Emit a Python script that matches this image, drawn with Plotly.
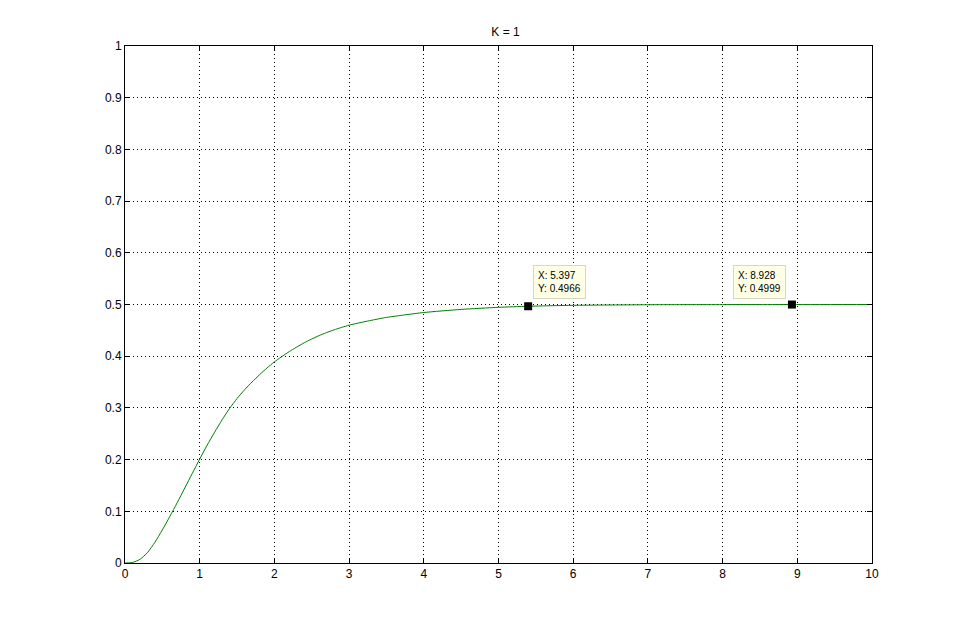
import plotly.graph_objects as go

t = [0, 0.1, 0.2, 0.3, 0.4, 0.5, 0.6, 0.7, 0.8, 0.9, 1.0, 1.1, 1.2, 1.3, 1.4, 1.5,
     1.6, 1.7, 1.8, 1.9, 2.0, 2.2, 2.4, 2.6, 2.8, 3.0, 3.25, 3.5, 3.75, 4.0, 4.5, 5.0,
     5.397, 6.0, 7.0, 8.0, 8.928, 10.0]
y = [0, 0.001, 0.007, 0.020, 0.040, 0.064, 0.090, 0.117, 0.145, 0.173, 0.201,
     0.228, 0.253, 0.277, 0.299, 0.318, 0.335, 0.350, 0.364, 0.377, 0.389, 0.409,
     0.426, 0.440, 0.451, 0.460, 0.468, 0.475, 0.480, 0.4845, 0.4905, 0.4945, 0.4966,
     0.4984, 0.4995, 0.4998, 0.4999, 0.5]

tip_x = [5.397, 8.928]
tip_y = [0.4966, 0.4999]

x_ticks = list(range(0, 11))
y_ticks = [0, 0.1, 0.2, 0.3, 0.4, 0.5, 0.6, 0.7, 0.8, 0.9, 1]
y_tick_labels = ["0", "0.1", "0.2", "0.3", "0.4", "0.5", "0.6", "0.7", "0.8", "0.9", "1"]

font = dict(family="Liberation Sans, Arial, sans-serif", size=12, color="black")

fig = go.Figure()
fig.add_trace(go.Scatter(x=t, y=y, mode="lines", line=dict(color="#007F00", width=1, shape="spline", smoothing=0.6),
                         hoverinfo="skip", showlegend=False))
fig.add_trace(go.Scatter(x=tip_x, y=tip_y, mode="markers",
                         marker=dict(symbol="square", size=8, color="black"),
                         hoverinfo="skip", showlegend=False))

fig.add_annotation(x=tip_x[0], y=tip_y[0], xref="x", yref="y", showarrow=False,
                   text="X: 5.397<br>Y: 0.4966", align="left", xanchor="left", yanchor="bottom",
                   xshift=5, yshift=7, bgcolor="#FFFFE6", bordercolor="#D8D8C0", borderwidth=1,
                   borderpad=4, font=dict(family=font["family"], size=10, color="black"))
fig.add_annotation(x=tip_x[1], y=tip_y[1], xref="x", yref="y", showarrow=False,
                   text="X: 8.928<br>Y: 0.4999", align="left", xanchor="right", yanchor="bottom",
                   xshift=-6, yshift=6, bgcolor="#FFFFE6", bordercolor="#D8D8C0", borderwidth=1,
                   borderpad=4, font=dict(family=font["family"], size=10, color="black"))

axis_common = dict(showline=True, linecolor="black", linewidth=1, mirror="ticks",
                   ticks="inside", ticklen=5, tickcolor="black",
                   showgrid=True, gridcolor="black", griddash="1px,3px", gridwidth=1,
                   zeroline=False, tickfont=font)

fig.update_layout(
    width=963, height=633,
    margin=dict(l=117, r=99, t=38, b=78),
    paper_bgcolor="white", plot_bgcolor="white",
    title=dict(text="K = 1", x=(125 + 872) / 2 / 963 - 8 / 963, xref="paper", xanchor="center",
               y=1 - 24 / 633, yanchor="middle",
               font=dict(family=font["family"], size=12, color="black")),
    xaxis=dict(range=[0, 10], tickvals=x_ticks, ticktext=[str(v) for v in x_ticks], **axis_common),
    yaxis=dict(range=[0, 1], tickvals=y_ticks, ticktext=y_tick_labels, **axis_common),
)

fig.write_html("out.html")
